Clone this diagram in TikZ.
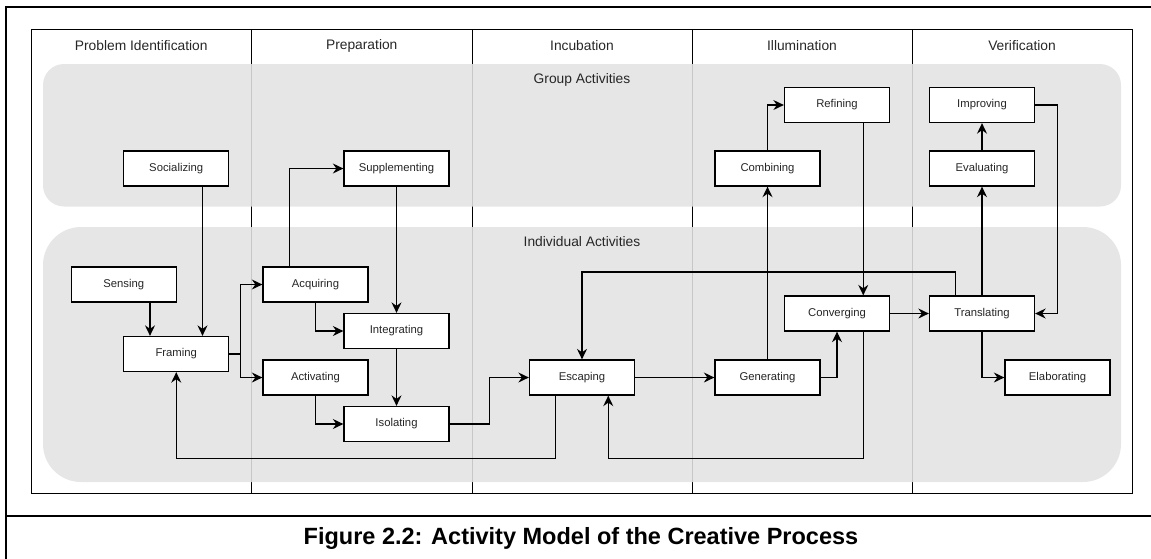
\documentclass[tikz,border=0pt]{standalone}
\usepackage{fontspec}
\setmainfont{Liberation Sans}
\usetikzlibrary{arrows.meta}
\begin{document}
\begin{tikzpicture}[x=1pt,y=-1pt,
  actbox/.style={draw=black, line width=1.3pt, fill=white, minimum width=105pt,
    minimum height=35pt, inner sep=0pt, font=\fontsize{11.3}{13}\selectfont, text=black!85},
  flow/.style={line width=1.3pt, -{Stealth[length=10.5pt,width=10pt,inset=3.5pt]}},
  lane/.style={fill=black!11, opacity=0.88},
  hdr/.style={font=\fontsize{13.8}{16}\selectfont, text=black!85},
]
\useasboundingbox (0,0) rectangle (1151,558);

% outer frame and caption separator
\draw[line width=2pt] (6,559) -- (6,7) -- (1152,7);
\draw[line width=2pt] (6,516) -- (1152,516);

% phase columns
\draw[line width=1pt] (31,29) rectangle (1132,493);
\foreach \x in {251.5,472,692,912} \draw[line width=1pt] (\x,29) -- (\x,493);

% activity lanes
\fill[lane, rounded corners=21pt] (43,64) rectangle (1121,206.5);
\fill[lane, rounded corners=38pt] (43,227) rectangle (1121,482);

% phase headers
\node[hdr] (hpi) at (141.25,46) {Problem Identification};
\node[hdr] (hpr) at (361.75,46) {Preparation};
\node[hdr] (hin) at (582,46) {Incubation};
\node[hdr] (hil) at (802,46) {Illumination};
\node[hdr] (hve) at (1022,46) {Verification};

% lane titles
\node[hdr] (lgrp) at (582,80) {Group Activities};
\node[hdr] (lind) at (582,242) {Individual Activities};

% group activities
\node[actbox] (soc)  at (176.25,168.5) {Socializing};
\node[actbox] (sup)  at (396.5,168.5)  {Supplementing};
\node[actbox] (comb) at (767.5,168.5)  {Combining};
\node[actbox] (ref)  at (837,105)      {Refining};
\node[actbox] (imp)  at (982,105)      {Improving};
\node[actbox] (eva)  at (982,168.5)    {Evaluating};

% individual activities
\node[actbox] (sen)  at (123.75,284.5) {Sensing};
\node[actbox] (fram) at (176.25,354)   {Framing};
\node[actbox] (acq)  at (315.5,284.5)  {Acquiring};
\node[actbox] (actv) at (315.5,377.5)  {Activating};
\node[actbox] (integ) at (396.5,331)   {Integrating};
\node[actbox] (iso)  at (396.5,424)    {Isolating};
\node[actbox] (esc)  at (582,377.5)    {Escaping};
\node[actbox] (gen)  at (767.5,377.5)  {Generating};
\node[actbox] (conv) at (837,313.5)    {Converging};
\node[actbox] (tra)  at (982,313.5)    {Translating};
\node[actbox] (ela)  at (1057.5,377.5) {Elaborating};

\coordinate (low) at (0,458.3);

% connectors
\draw[flow] ([xshift=26.25pt]soc.south) -- ([xshift=26.25pt]fram.north);
\draw[flow] ([xshift=26.25pt]sen.south) -- ([xshift=-26.25pt]fram.north);
\draw[flow] (fram.east) -- ++(11,0) |- (acq.west);
\draw[flow] (fram.east) -- ++(11,0) |- (actv.west);
\draw[flow] ([xshift=-26.25pt]acq.north) |- (sup.west);
\draw[flow] (acq.south) |- (integ.west);
\draw[flow] (sup.south) -- (integ.north);
\draw[flow] (integ.south) -- (iso.north);
\draw[flow] (actv.south) |- (iso.west);
\draw[flow] (iso.east) -- ++(40,0) |- (esc.west);
\draw[flow] ([xshift=-26.25pt]esc.south) -- ([xshift=-26.25pt]esc.south |- low) -| (fram.south);
\draw[flow] (esc.east) -- (gen.west);
\draw[flow] (gen.north) -- (comb.south);
\draw[flow] (comb.north) |- (ref.west);
\draw[flow] ([xshift=26.25pt]ref.south) -- ([xshift=26.25pt]conv.north);
\draw[flow] (gen.east) -| (conv.south);
\draw[flow] ([xshift=26.25pt]conv.south) -- ([xshift=26.25pt]conv.south |- low) -| ([xshift=26.25pt]esc.south);
\draw[flow] ([xshift=-26.25pt]tra.north) -- ++(0,-23.3) -| (esc.north);
\draw[flow] (conv.east) -- (tra.west);
\draw[flow] (tra.north) -- (eva.south);
\draw[flow] (eva.north) -- (imp.south);
\draw[flow] (imp.east) -- ++(22.5,0) |- (tra.east);
\draw[flow] (tra.south) |- (ela.west);

% caption
\node[font=\fontsize{23.5}{28}\selectfont\bfseries] (cap) at (581,538)
  {Figure 2.2: Activity Model of the Creative Process};
\end{tikzpicture}
\end{document}
